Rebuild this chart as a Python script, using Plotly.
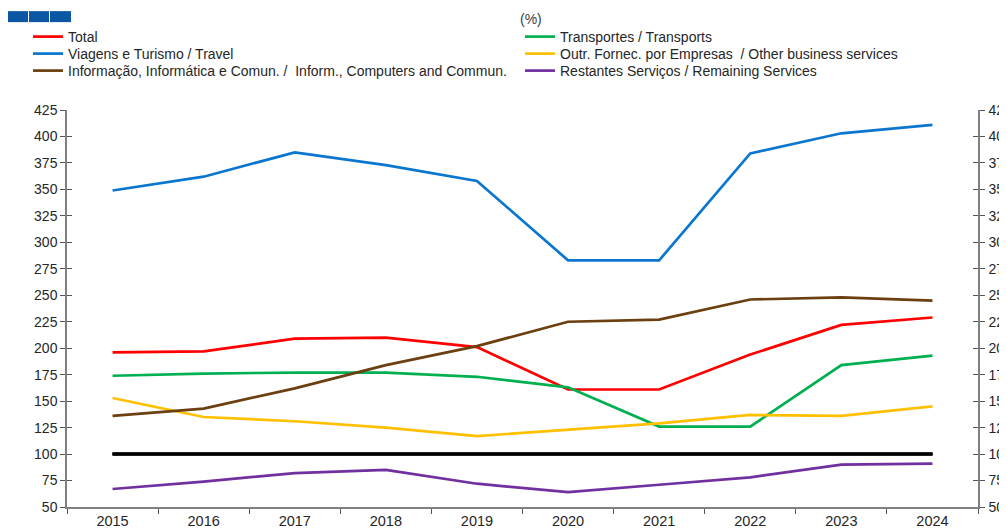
import plotly.graph_objects as go

years = ["2015", "2016", "2017", "2018", "2019", "2020", "2021", "2022", "2023", "2024"]

total = [196, 197, 209, 210, 201, 161, 161, 194, 222, 229]
transportes = [174, 176, 177, 177, 173, 163, 126, 126, 184, 193]
viagens = [349, 362, 385, 373, 358, 283, 283, 384, 403, 411]
outr_fornec = [153, 135, 131, 125, 117, 123, 129, 137, 136, 145]
informacao = [136, 143, 162, 184, 202, 225, 227, 246, 248, 245]
restantes = [67, 74, 82, 85, 72, 64, 71, 78, 90, 91]
base100 = [100] * 10

names = [
    "Total",
    "Transportes / Transports",
    "Viagens e Turismo / Travel",
    "Outr. Fornec. por Empresas  / Other business services",
    "Informação, Informática e Comun. /  Inform., Computers and Commun.",
    "Restantes Serviços / Remaining Services",
]
series = [total, transportes, viagens, outr_fornec, informacao, restantes]
colors = ["#FF0000", "#00B050", "#0B76CF", "#FFC000", "#6B3F10", "#7030A0"]

y_ticks = list(range(50, 426, 25))

# The page body adds an 8px offset; the figure is sized/positioned to compensate.
OFF = 8
W, H = 1007 - OFF, 530 - OFF
L = 67 - OFF
PW = 911
R = W - L - PW
T = 110 - OFF
PH = 397.5
B = H - T - PH

def cx(p):  # reference pixel x -> container fraction
    return (p - OFF) / W

def cy(p):  # reference pixel y -> container fraction
    return 1 - (p - OFF) / H

def px_x(p):
    return (p - OFF - L) / PW

def px_y(p):
    return (T + PH - (p - OFF)) / PH

# legend slot for each series: (legend id, text-left x, row centre y) in reference pixels
legend_slots = [
    ("legend", 68, 37),
    ("legend2", 560, 37),
    ("legend3", 68, 54),
    ("legend4", 560, 54),
    ("legend5", 68, 71),
    ("legend6", 560, 71),
]

fig = go.Figure()
fig.add_trace(go.Scatter(x=years, y=base100, mode="lines", line=dict(color="#000000", width=3),
                         showlegend=False, hoverinfo="skip", yaxis="y3"))
for (lg, _, _), name, vals, col in zip(legend_slots, names, series, colors):
    fig.add_trace(go.Scatter(x=years, y=vals, mode="lines", name=name, legend=lg,
                             line=dict(color=col, width=2.7)))
fig.add_trace(go.Scatter(x=years, y=base100, mode="lines", line=dict(color="#000000", width=3),
                         showlegend=False, hoverinfo="skip", yaxis="y2"))
fig.add_trace(go.Scatter(x=years, y=base100, mode="lines", line=dict(color="#000000", width=3),
                         showlegend=False, hoverinfo="skip", yaxis="y4"))

FONT = "Liberation Sans, Arial, sans-serif"
axis_common = dict(range=[50, 425], tickvals=y_ticks, showgrid=False, zeroline=False,
                   showline=True, linecolor="#808080", linewidth=1.5,
                   tickcolor="#555555", ticklen=5, tickwidth=1.3,
                   tickfont=dict(family=FONT, size=14, color="#262626"))

layout = dict(
    width=W, height=H,
    margin=dict(l=L, r=R, t=T, b=B, autoexpand=False),
    paper_bgcolor="white", plot_bgcolor="white",
    font=dict(family=FONT, size=14, color="#262626"),
    xaxis=dict(type="category", range=[-0.5, 9.5], showgrid=False, zeroline=False, showline=True,
               linecolor="#808080", linewidth=1.5, ticks="outside", tickson="boundaries",
               ticklen=5, tickcolor="#555555", tickwidth=1.3,
               tickfont=dict(size=14.5, color="#262626")),
    yaxis=dict(**axis_common, ticks="outside", side="left"),
    yaxis2=dict(**axis_common, ticks="outside", side="right", overlaying="y",
                ticklabelstandoff=1),
    yaxis3=dict(**axis_common, ticks="inside", side="left", overlaying="y", showticklabels=False),
    yaxis4=dict(**axis_common, ticks="inside", side="right", overlaying="y", showticklabels=False),
    showlegend=True,
)
for lg, tx, ty in legend_slots:
    layout[lg] = dict(xref="container", yref="container",
                      x=cx(tx - 40), y=cy(ty), xanchor="left", yanchor="middle",
                      font=dict(size=14, color="#262626"), bgcolor="rgba(0,0,0,0)",
                      itemwidth=30)
fig.update_layout(**layout)

# decorative blue blocks (top-left)
for x0, x1 in [(7, 28), (29, 49), (50, 71)]:
    fig.add_shape(type="rect", xref="paper", yref="paper",
                  x0=px_x(x0), x1=px_x(x1), y0=px_y(22), y1=px_y(11),
                  fillcolor="#0B57A4", line=dict(width=0), layer="above")

fig.add_annotation(text="(%)", xref="paper", yref="paper", x=px_x(530.5), y=px_y(19),
                   showarrow=False, font=dict(size=14, color="#404040"),
                   xanchor="center", yanchor="middle")

fig.write_html("out.html")
